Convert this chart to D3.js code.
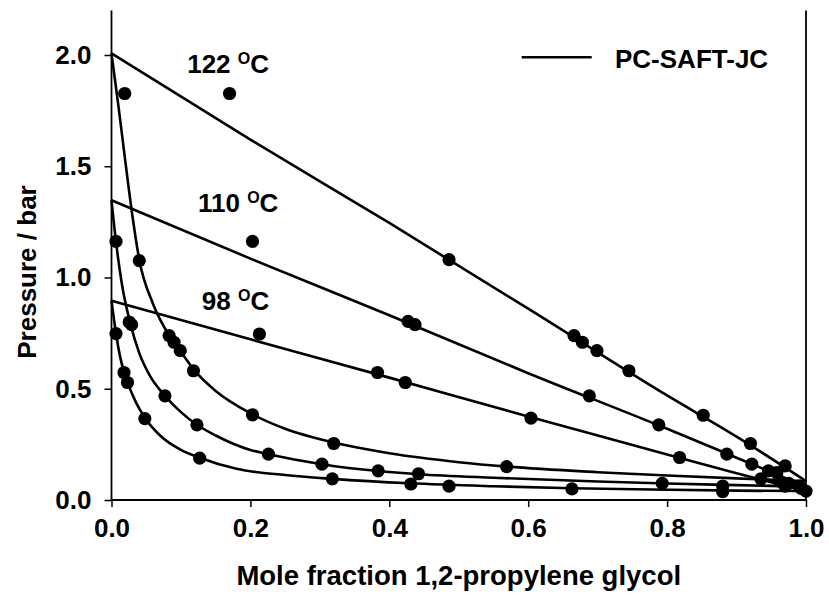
<!DOCTYPE html>
<html><head><meta charset="utf-8">
<script src="https://cdn.jsdelivr.net/npm/d3@7"></script>
<style>
body{margin:0;background:#fff}
svg{display:block}
text{font-family:"Liberation Sans",Arial,sans-serif;font-weight:bold;fill:#000}
</style>
</head><body>
<svg id="chart" width="829" height="600"></svg>
<script>
// ---- data ----
const xTicks = [0, 0.2, 0.4, 0.6, 0.8, 1.0];
const yTicks = [0, 0.5, 1.0, 1.5, 2.0];
const tempLabels = ["122", "110", "98"];
const tempLabelPos = [[0.109, 1.918], [0.1245, 1.296], [0.130, 0.854]];
const legendLabel = "PC-SAFT-JC";
const xTitle = "Mole fraction 1,2-propylene glycol";
const yTitle = "Pressure / bar";

// PC-SAFT-JC model curves
const bubble122 = [[0,2.007],[0.2,1.62],[0.4,1.245],[0.6,0.86],[0.8,0.47],[0.9,0.285],[1.0,0.085]];
const dew122 = [[0,2.007],[0.01,1.77],[0.02,1.52],[0.03,1.28],[0.04,1.08],[0.06,0.88],[0.085,0.73],[0.1,0.665],[0.12,0.58],[0.15,0.49],[0.2,0.39],[0.25,0.32],[0.32,0.258],[0.4,0.21],[0.5,0.17],[0.57,0.15],[0.7,0.125],[0.8,0.11],[0.9,0.097],[1.0,0.085]];
const bubble110 = [[0,1.347],[0.2,1.085],[0.4,0.83],[0.6,0.57],[0.8,0.32],[0.9,0.19],[1.0,0.06]];
const dew110 = [[0,1.347],[0.0065,1.16],[0.015,0.97],[0.027,0.795],[0.04,0.66],[0.055,0.56],[0.077,0.468],[0.1,0.395],[0.123,0.338],[0.15,0.29],[0.2,0.225],[0.226,0.206],[0.303,0.161],[0.384,0.13],[0.442,0.116],[0.55,0.1],[0.7,0.083],[0.8,0.074],[0.9,0.067],[1.0,0.06]];
const bubble98 = [[0,0.896],[0.2,0.722],[0.4,0.55],[0.6,0.375],[0.8,0.205],[0.9,0.12],[1.0,0.04]];
const dew98 = [[0,0.896],[0.0065,0.748],[0.012,0.65],[0.018,0.575],[0.023,0.53],[0.035,0.44],[0.048,0.37],[0.07,0.29],[0.1,0.225],[0.127,0.19],[0.18,0.14],[0.25,0.112],[0.318,0.095],[0.43,0.075],[0.55,0.062],[0.663,0.053],[0.8,0.046],[0.9,0.042],[1.0,0.04]];

// experimental points
const exp122 = [[0.019,1.827],[0.170,1.827],[0.040,1.076],[0.486,1.080],[0.083,0.739],[0.666,0.739],[0.090,0.709],[0.678,0.709],[0.099,0.671],[0.699,0.671],[0.118,0.581],[0.745,0.581],[0.203,0.383],[0.852,0.381],[0.320,0.254],[0.920,0.254],[0.569,0.150],[0.970,0.153]];
const exp110 = [[0.0065,1.162],[0.203,1.162],[0.0255,0.800],[0.029,0.788],[0.427,0.803],[0.437,0.788],[0.077,0.468],[0.688,0.468],[0.123,0.338],[0.788,0.338],[0.226,0.206],[0.886,0.206],[0.303,0.161],[0.922,0.161],[0.384,0.131],[0.946,0.131],[0.442,0.118],[0.958,0.123],[0.793,0.075],[0.975,0.075],[0.880,0.063],[0.990,0.063]];
const exp98 = [[0.0065,0.748],[0.213,0.746],[0.018,0.573],[0.383,0.573],[0.023,0.528],[0.423,0.528],[0.048,0.366],[0.604,0.368],[0.127,0.188],[0.818,0.191],[0.318,0.095],[0.935,0.095],[0.431,0.072],[0.962,0.085],[0.486,0.062],[0.970,0.062],[0.663,0.050],[0.993,0.052],[0.880,0.038],[1.000,0.040]];

// ---- drawing ----
const svg = d3.select("#chart");
const x = d3.scaleLinear().domain([0, 1]).range([111.5, 806]);
const y = d3.scaleLinear().domain([0, 2]).range([500, 55]);
const yTop = 2.2;

const g = svg.append("g");

// curves
const line = d3.line().x(d => x(d[0])).y(d => y(d[1])).curve(d3.curveMonotoneX);
[bubble122, dew122, bubble110, dew110, bubble98, dew98].forEach(c => {
  g.append("path").attr("d", line(c)).attr("fill", "none")
    .attr("stroke", "#000").attr("stroke-width", 2.6);
});

// points
[exp122, exp110, exp98].forEach(s => {
  g.selectAll(null).data(s).enter().append("circle")
    .attr("cx", d => x(d[0])).attr("cy", d => y(d[1])).attr("r", 6.6)
    .attr("fill", "#000");
});

// axes
const xAxis = d3.axisBottom(x).tickValues(xTicks).tickFormat(d3.format(".1f"))
  .tickSize(7).tickSizeOuter(0).tickPadding(12);
const yAxis = d3.axisLeft(y).tickValues(yTicks).tickFormat(d3.format(".1f"))
  .tickSize(7).tickSizeOuter(0).tickPadding(13);

const gx = svg.append("g").attr("transform", `translate(0,${y(0)})`).call(xAxis);
const gy = svg.append("g").attr("transform", `translate(${x(0)},0)`).call(yAxis);
[gx, gy].forEach(a => {
  a.select(".domain").remove();
  a.selectAll(".tick line").attr("stroke", "#000").attr("stroke-width", 1.5);
  a.selectAll(".tick text").attr("font-size", 26).attr("font-family", "Liberation Sans, Arial, sans-serif")
    .attr("font-weight", "bold").attr("fill", "#000");
});
// axis lines (left, bottom, right)
svg.append("line").attr("x1", x(0)).attr("x2", x(0)).attr("y1", y(yTop)).attr("y2", y(0))
  .attr("stroke", "#000").attr("stroke-width", 1.8);
svg.append("line").attr("x1", x(0)).attr("x2", x(1)).attr("y1", y(0)).attr("y2", y(0))
  .attr("stroke", "#000").attr("stroke-width", 1.8);
svg.append("line").attr("x1", x(1)).attr("x2", x(1)).attr("y1", y(yTop)).attr("y2", y(0))
  .attr("stroke", "#000").attr("stroke-width", 1.8);

// axis titles
svg.append("text").attr("x", (x(0) + x(1)) / 2).attr("y", 585)
  .attr("text-anchor", "middle").attr("font-size", 27.5).text(xTitle);
svg.append("text").attr("transform", `translate(36,272) rotate(-90)`)
  .attr("text-anchor", "middle").attr("font-size", 26).text(yTitle);

// temperature labels
tempLabels.forEach((t, i) => {
  const tx = svg.append("text").attr("x", x(tempLabelPos[i][0])).attr("y", y(tempLabelPos[i][1]))
    .attr("font-size", 26);
  tx.append("tspan").text(t + " ");
  tx.append("tspan").attr("font-size", 16).attr("dy", -9).text("O");
  tx.append("tspan").attr("dy", 9).text("C");
});

// legend
svg.append("line").attr("x1", 521.7).attr("x2", 591.7).attr("y1", 57.3).attr("y2", 57.3)
  .attr("stroke", "#000").attr("stroke-width", 2.6);
svg.append("text").attr("x", 615).attr("y", 68).attr("font-size", 26).text(legendLabel);
</script>
</body></html>
